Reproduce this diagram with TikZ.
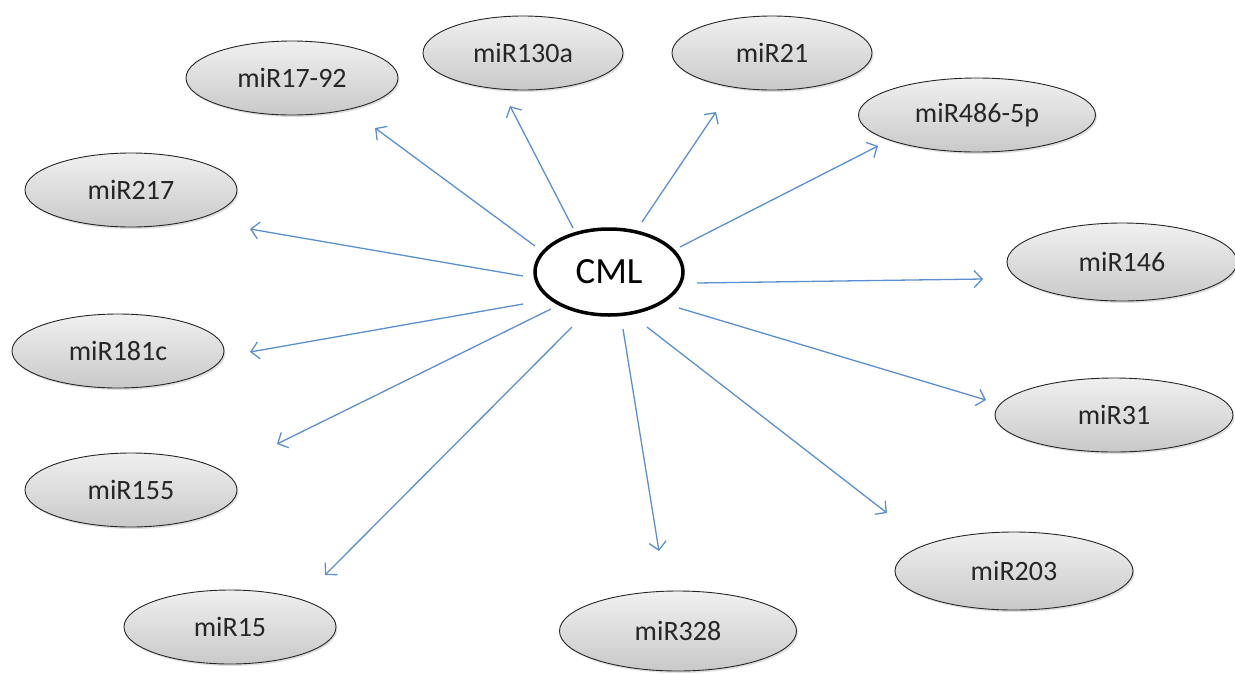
\documentclass[tikz,border=0pt]{standalone}
\usepackage{fontspec}
\setmainfont{Carlito}
\usetikzlibrary{arrows.meta, shapes.geometric, shadows}
\definecolor{mrBlue}{HTML}{5B8FCF}
\definecolor{mrTop}{HTML}{F0F0F0}
\definecolor{mrBot}{HTML}{C9C9C9}

\begin{document}
\begin{tikzpicture}[
    x=1pt, y=-1pt,
    mir/.style={ellipse, draw=black!85, line width=0.9pt, inner sep=0pt,
                top color=mrTop, bottom color=mrBot,
                drop shadow={shadow xshift=1.5pt, shadow yshift=-2pt, opacity=0.25},
                minimum width=212pt, minimum height=74pt,
                font=\fontsize{28}{30}\selectfont, text=black!85},
    hub/.style={ellipse, draw=black, line width=3.5pt, fill=white, inner sep=0pt,
                minimum width=148pt, minimum height=86pt,
                font=\fontsize{37}{40}\selectfont},
    link/.style={-{Straight Barb[length=8pt, width=17pt, line width=1.3pt]},
                 line width=1.3pt, draw=mrBlue},
  ]
  \useasboundingbox (0,0) rectangle (1235,673);

  % centre
  \node[hub] (cml) at (609,272) {CML};

  % upper row
  \node[mir] (m1792) at (292,78)  {miR17-92};
  \node[mir, minimum width=200pt] (m130a) at (523,53) {miR130a};
  \node[mir, minimum width=200pt] (m21)   at (772,53) {miR21};
  \node[mir, minimum width=237pt] (m486)  at (977,115) {miR486-5p};

  % left side
  \node[mir] (m217)  at (131,190) {miR217};
  \node[mir] (m181c) at (118,351) {miR181c};
  \node[mir] (m155)  at (131,490) {miR155};
  \node[mir] (m15)   at (230,627) {miR15};

  % right side and bottom
  \node[mir, minimum width=230pt, minimum height=78pt] (m146) at (1122,262) {miR146};
  \node[mir, minimum width=238pt] (m31)  at (1114,415) {miR31};
  \node[mir, minimum width=238pt, minimum height=78pt] (m203) at (1014,571) {miR203};
  \node[mir, minimum width=237pt, minimum height=80pt] (m328) at (678,631) {miR328};

  % arrows leave the hub and stop short of the targets
  \foreach \n/\sx/\sy/\tx/\ty in {1792/535/246/375/128, 130a/573/228/510/106,
      21/642/222/716/112, 486/680/247/878/146, 217/523/276/250/229,
      146/697/283/983/279, 181c/523/304/250/352, 155/551/309/277/444,
      15/572/327/325/575, 328/623/329/659/551, 203/647/327/887/513,
      31/679/308/986/400} {
    \coordinate (s\n) at (\sx,\sy);
    \coordinate (t\n) at (\tx,\ty);
    \draw[link] (s\n) -- (t\n);
  }
\end{tikzpicture}
\end{document}
